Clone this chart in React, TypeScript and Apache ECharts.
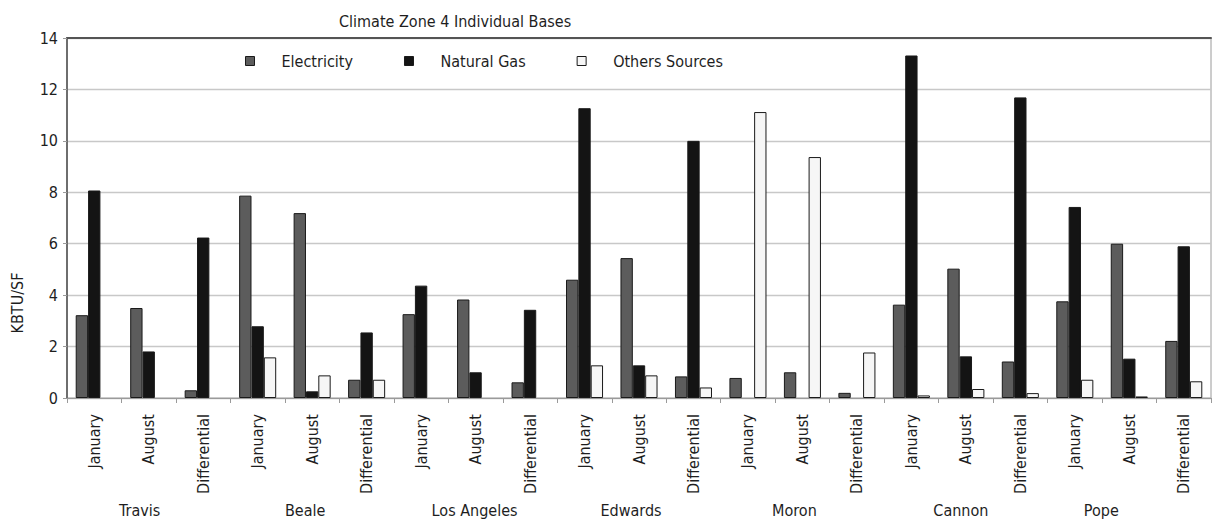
import React, { useEffect, useRef } from "react";
import * as echarts from "echarts";

const bases = ["Travis", "Beale", "Los Angeles", "Edwards", "Moron", "Cannon", "Pope"];
const baseLabelShift = [-9, -7, -1, -8, -8, -5, -28];
const periods = ["January", "August", "Differential"];
const categories = bases.flatMap(() => periods);
const seriesNames = ["Electricity", "Natural Gas", "Others Sources"];

const electricity = [
  3.22, 3.5, 0.3,
  7.87, 7.19, 0.71,
  3.26, 3.83, 0.61,
  4.6, 5.44, 0.84,
  0.78, 1.0, 0.2,
  3.63, 5.03, 1.42,
  3.76, 6.0, 2.22,
];
const naturalGas = [
  8.07, 1.81, 6.24,
  2.79, 0.26, 2.55,
  4.37, 1.0, 3.43,
  11.27, 1.27, 10.0,
  null, null, null,
  13.32, 1.62, 11.69,
  7.43, 1.53, 5.9,
];
const otherSources = [
  null, null, null,
  1.58, 0.88, 0.71,
  null, null, null,
  1.27, 0.88, 0.41,
  11.12, 9.37, 1.77,
  0.1, 0.35, 0.19,
  0.71, 0.06, 0.65,
];

const yTicks = [0, 2, 4, 6, 8, 10, 12, 14];
const FONT = "'DejaVu Sans Condensed', 'Roboto', sans-serif";
const FS = 16;
const TEXT = "#1e1e1e";

export default function App() {
  const ref = useRef<HTMLDivElement>(null);
  useEffect(() => {
    document.body.style.margin = "0";
    const chart = echarts.init(ref.current!, null, { renderer: "svg" });
    const border = { borderColor: "#1a1a1a", borderWidth: 1 };
    const rich: Record<string, any> = {};
    bases.forEach((_, i) => {
      const s = baseLabelShift[i];
      rich["b" + i] = {
        fontFamily: FONT,
        fontSize: FS,
        color: TEXT,
        padding: s < 0 ? [0, -2 * s, 0, 0] : [0, 0, 0, 2 * s],
      };
    });
    chart.setOption({
      animation: false,
      backgroundColor: "#ffffff",
      textStyle: { fontFamily: FONT, color: TEXT },
      title: {
        text: "Climate Zone 4 Individual Bases",
        left: 334,
        top: 8,
        textStyle: { fontFamily: FONT, fontSize: FS, fontWeight: "normal", color: TEXT },
      },
      legend: {
        left: 240,
        top: 48,
        icon: "rect",
        itemWidth: 9,
        itemHeight: 9,
        itemGap: 51,
        itemStyle: { borderColor: "#1a1a1a", borderWidth: 1 },
        textStyle: { fontFamily: FONT, fontSize: FS, color: TEXT, padding: [0, 0, 0, 22] },
        data: seriesNames,
      },
      grid: {
        left: 67,
        right: 1,
        top: 38,
        height: 360,
        show: true,
        borderColor: "#9a9a9a",
        borderWidth: 1,
        backgroundColor: "transparent",
      },
      xAxis: [
        {
          type: "category",
          data: categories,
          position: "bottom",
          axisLine: { lineStyle: { color: "#9a9a9a", width: 1 } },
          axisTick: { show: true, length: 5, lineStyle: { color: "#9a9a9a" } },
          axisLabel: {
            rotate: 90,
            margin: 16,
            fontSize: FS,
            fontFamily: FONT,
            color: TEXT,
            interval: 0,
          },
        },
        {
          type: "category",
          data: bases,
          position: "bottom",
          offset: 98,
          axisLine: { show: false },
          axisTick: { show: false },
          axisLabel: {
            margin: 6,
            fontSize: FS,
            fontFamily: FONT,
            color: TEXT,
            interval: 0,
            formatter: (v: string) => `{b${bases.indexOf(v)}|${v}}`,
            rich,
          },
        },
        {
          type: "category",
          data: categories,
          position: "top",
          axisLine: { lineStyle: { color: "#555555", width: 2 } },
          axisTick: { show: false },
          axisLabel: { show: false },
        },
      ],
      yAxis: {
        type: "value",
        min: yTicks[0],
        max: yTicks[yTicks.length - 1],
        interval: 2,
        axisLine: { show: true, lineStyle: { color: "#6e6e6e", width: 2 } },
        axisTick: { show: true, length: 4, lineStyle: { color: "#9a9a9a" } },
        axisLabel: { margin: 9, fontSize: FS, fontFamily: FONT, color: TEXT },
        splitLine: { lineStyle: { color: "#c8c8c8", width: 1.3 } },
      },
      graphic: [
        {
          type: "text",
          x: 17,
          y: 303,
          rotation: Math.PI / 2,
          style: {
            text: "KBTU/SF",
            fontFamily: FONT,
            fontSize: FS,
            fill: TEXT,
            align: "center",
            verticalAlign: "middle",
          },
        },
      ],
      series: [
        {
          name: seriesNames[0],
          type: "bar",
          data: electricity,
          barGap: "0%",
          barCategoryGap: "32%",
          itemStyle: { color: "#5c5c5c", ...border },
        },
        {
          name: seriesNames[1],
          type: "bar",
          data: naturalGas,
          barGap: "0%",
          barCategoryGap: "32%",
          itemStyle: { color: "#141414", ...border },
        },
        {
          name: seriesNames[2],
          type: "bar",
          data: otherSources,
          barGap: "0%",
          barCategoryGap: "32%",
          itemStyle: { color: "#f6f6f6", ...border },
        },
      ],
    });
    return () => chart.dispose();
  }, []);
  return (
    <div
      ref={ref}
      style={{ position: "absolute", left: 0, top: 0, width: 1212, height: 525 }}
    />
  );
}
